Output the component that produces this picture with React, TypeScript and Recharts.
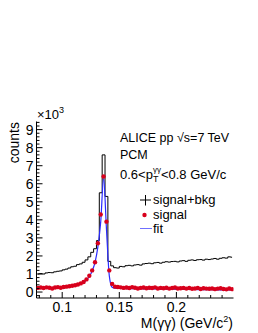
import React from 'react';
import { ComposedChart, Line, Scatter, XAxis, YAxis } from 'recharts';

// invariant mass bins: 0.0775 .. 0.25 GeV/c^2, 2.5 MeV wide
const massLow = 0.0775;
const massHigh = 0.25;
const binWidth = 0.0025;

const signalBkg = [
  1000, 1020, 1000, 1060, 1080, 1070, 1120, 1150, 1170, 1230,
  1270, 1330, 1400, 1430, 1520, 1560, 1650, 1780, 1950, 2200,
  2400, 2850, 5500, 7600, 5300, 1700, 1450, 1350, 1330,
  1420, 1400, 1460, 1480, 1450, 1500, 1520, 1490, 1560, 1580,
  1600, 1570, 1620, 1640, 1600, 1650, 1680, 1660, 1690, 1700,
  1670, 1720, 1740, 1700, 1760, 1780, 1750, 1790, 1800, 1770,
  1820, 1800, 1830, 1860, 1820, 1870, 1900, 1880, 1950, 1930,
];

const signal = [
  230, 250, 220, 260, 240, 200, 250, 270, 240, 280,
  300, 320, 350, 380, 420, 480, 560, 700, 900, 1200,
  1650, 2700, 4300, 6400, 3900, 1200, 450, 300, 280,
  260, 230, 250, 220, 270, 240, 200, 230, 250, 210,
  240, 220, 260, 200, 230, 210, 240, 190, 220, 250,
  200, 210, 230, 190, 220, 180, 200, 230, 170, 210,
  190, 180, 200, 160, 190, 210, 170, 150, 200, 160,
];

const fit = [
  200, 205, 210, 215, 220, 225, 230, 240, 250, 260,
  275, 290, 320, 350, 390, 450, 530, 660, 860, 1170,
  1650, 2500, 3900, 6300, 3500, 900, 260, 210, 205,
  200, 200, 195, 195, 190, 190, 185, 185, 180, 180,
  175, 175, 170, 170, 165, 165, 160, 160, 155, 155,
  150, 150, 148, 146, 144, 142, 140, 138, 136, 134,
  132, 130, 128, 126, 124, 122, 120, 118, 116, 114,
];

const xMajorTicks = [0.1, 0.15, 0.2];
const xMajorLabels = ['0.1', '0.15', '0.2'];
const yMajorTicks = [0, 1000, 2000, 3000, 4000, 5000, 6000, 7000, 8000, 9000];

const data = signalBkg.map((v, i) => ({
  m: massLow + binWidth * (i + 0.5),
  sb: v,
  sig: signal[i],
  fit: fit[i],
}));

// minor ticks every 0.01 in x and 200 counts in y
const xTicks: number[] = [];
for (let v = 8; v <= 24; v++) xTicks.push(+(v / 100).toFixed(2));
const yTicks: number[] = [];
for (let v = -200; v <= 9400; v += 200) yTicks.push(v);

const FONT = '"Liberation Sans", Arial, Helvetica, sans-serif';

const xIsMajor = (v: number) => xMajorTicks.findIndex((t) => Math.abs(t - v) < 1e-6);
const yIsMajor = (v: number) => yMajorTicks.includes(v);

const BottomTick = (props: any) => {
  const { x, y, payload } = props;
  const idx = xIsMajor(payload.value);
  return (
    <g>
      <line x1={x} x2={x} y1={y} y2={y - (idx >= 0 ? 6 : 3)} stroke="#000" />
      {idx >= 0 && (
        <text x={x} y={y + 14} textAnchor="middle" fontSize={14} fontFamily={FONT} fill="#000">
          {xMajorLabels[idx]}
        </text>
      )}
    </g>
  );
};

const TopTick = (props: any) => {
  const { x, y, payload } = props;
  const major = xIsMajor(payload.value) >= 0;
  return <line x1={x} x2={x} y1={y} y2={y + (major ? 6 : 3)} stroke="#000" />;
};

const LeftTick = (props: any) => {
  const { x, y, payload } = props;
  const major = yIsMajor(payload.value);
  return (
    <g>
      <line x1={x} x2={x + (major ? 6 : 3)} y1={y} y2={y} stroke="#000" />
      {major && (
        <text x={x - 3} y={y + 5} textAnchor="end" fontSize={14} fontFamily={FONT} fill="#000">
          {payload.value / 1000}
        </text>
      )}
    </g>
  );
};

const RightTick = (props: any) => {
  const { x, y, payload } = props;
  const major = yIsMajor(payload.value);
  return <line x1={x} x2={x - (major ? 6 : 3)} y1={y} y2={y} stroke="#000" />;
};

const Dot = (props: any) => <circle cx={props.cx} cy={props.cy} r={2.2} fill="#d8001c" />;

export default function App() {
  return (
    <div style={{ position: 'absolute', left: 0, top: 0, width: 258, height: 333, background: '#fff' }}>
      <ComposedChart
        width={258}
        height={333}
        data={data}
        margin={{ top: 121.5, right: 24.5, left: 0, bottom: 0 }}
      >
        <XAxis
          dataKey="m"
          type="number"
          domain={[massLow, massHigh]}
          allowDataOverflow
          ticks={xTicks}
          interval={0}
          tick={BottomTick}
          tickLine={false}
          tickSize={0}
          tickMargin={0}
          height={35}
          axisLine={{ stroke: '#000' }}
        />
        <XAxis
          xAxisId="top"
          orientation="top"
          type="number"
          domain={[massLow, massHigh]}
          allowDataOverflow
          ticks={xTicks}
          interval={0}
          tick={TopTick}
          tickLine={false}
          tickSize={0}
          tickMargin={0}
          height={0}
          axisLine={{ stroke: '#000' }}
        />
        <YAxis
          type="number"
          domain={[-330, 9450]}
          allowDataOverflow
          ticks={yTicks}
          interval={0}
          tick={LeftTick}
          tickLine={false}
          tickSize={0}
          tickMargin={0}
          width={36.5}
          axisLine={{ stroke: '#000' }}
        />
        <YAxis
          yAxisId="right"
          orientation="right"
          type="number"
          domain={[-330, 9450]}
          allowDataOverflow
          ticks={yTicks}
          interval={0}
          tick={RightTick}
          tickLine={false}
          tickSize={0}
          tickMargin={0}
          width={0}
          axisLine={{ stroke: '#000' }}
        />
        <Line
          type="step"
          dataKey="sb"
          stroke="#000"
          strokeWidth={1}
          dot={false}
          isAnimationActive={false}
        />
        <Scatter dataKey="sig" shape={Dot} isAnimationActive={false} />
        <Line
          type="monotone"
          dataKey="fit"
          stroke="#2a2aff"
          strokeWidth={1.2}
          dot={false}
          isAnimationActive={false}
        />
      </ComposedChart>

      <svg
        width={258}
        height={333}
        style={{ position: 'absolute', left: 0, top: 0, pointerEvents: 'none' }}
        fontFamily={FONT}
      >
        <text transform="translate(18.5,122) rotate(-90)" textAnchor="end" fontSize={14}>
          counts
        </text>
        <text x={37} y={119} fontSize={13}>
          ×10<tspan dy={-6} fontSize={9}>3</tspan>
        </text>
        <text x={233} y={328} textAnchor="end" fontSize={14}>
          M(γγ) (GeV/c<tspan dy={-6} fontSize={9}>2</tspan>
          <tspan dy={6}>)</tspan>
        </text>

        <text x={120} y={142} fontSize={12.5}>ALICE pp √s=7 TeV</text>
        <text x={120} y={158.5} fontSize={12.5}>PCM</text>
        <text x={120} y={179} fontSize={13}>
          0.6&lt;p<tspan dy={3} fontSize={9}>T</tspan>
          <tspan dx={-5.5} dy={-10} fontSize={8}>γγ</tspan>
          <tspan dy={7}>&lt;0.8 GeV/c</tspan>
        </text>

        <line x1={140} x2={151} y1={200} y2={200} stroke="#000" />
        <line x1={145.5} x2={145.5} y1={195} y2={205.5} stroke="#000" />
        <text x={153} y={204} fontSize={13}>signal+bkg</text>
        <circle cx={144.5} cy={215} r={2.2} fill="#d8001c" />
        <text x={153} y={218.5} fontSize={13}>signal</text>
        <line x1={140} x2={152} y1={228.5} y2={228.5} stroke="#7070ff" />
        <text x={153} y={233} fontSize={13}>fit</text>
      </svg>
    </div>
  );
}
